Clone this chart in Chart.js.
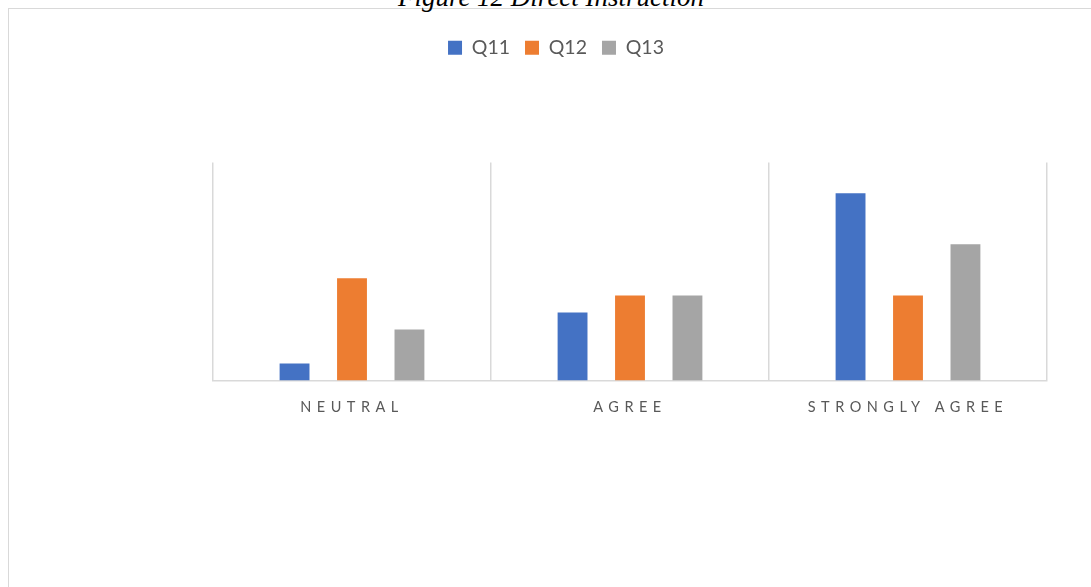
<!DOCTYPE html>
<html>
<head>
<meta charset="utf-8">
<script src="https://cdn.jsdelivr.net/npm/chart.js@4"></script>
<style>
  html, body { margin: 0; padding: 0; background: #fff; overflow: hidden; }
  #frame {
    position: absolute; left: 8px; top: 8px; width: 1200px; height: 700px;
    border-top: 1.5px solid #d9d9d9; border-left: 1.5px solid #d9d9d9;
  }
  #caption {
    position: absolute; left: 0; width: 1102px; top: -18px; line-height: 27px;
    text-align: center; font: italic 27px "Liberation Serif", serif; color: #000;
  }
  #chart { position: absolute; left: 0; top: 0; }
</style>
</head>
<body>
<div id="frame"></div>
<div id="caption">Figure 12 Direct Instruction</div>
<canvas id="chart" width="1091" height="587"></canvas>
<script>
// answers per category
const categories = ['NEUTRAL', 'AGREE', 'STRONGLY AGREE'];
const seriesNames = ['Q11', 'Q12', 'Q13'];
const q11 = [1, 4, 11];
const q12 = [6, 5, 5];
const q13 = [3, 5, 8];
const colors = ['#4472C4', '#ED7D31', '#A5A5A5'];

// push the plot area down below the legend
const legendGap = {
  id: 'legendGap',
  beforeInit (chart) {
    const fit = chart.legend.fit;
    chart.legend.fit = function () {
      fit.call(this);
      this.height += 95;
    };
  }
};

// spaced out category labels (ticks are drawn after the bars, z: 1)
const spacedTicks = {
  id: 'spacedTicks',
  afterDatasetsDraw (chart) { chart.ctx.letterSpacing = '5.5px'; },
  afterDraw (chart) { chart.ctx.letterSpacing = '0px'; }
};

const data = {
  labels: categories,
  datasets: [q11, q12, q13].map((values, i) => ({
    label: seriesNames[i],
    data: values,
    backgroundColor: colors[i],
    borderWidth: 0,
    categoryPercentage: 0.62,
    barPercentage: 0.52
  }))
};

new Chart(document.getElementById('chart'), {
  type: 'bar',
  data: data,
  options: {
    responsive: false,
    animation: false,
    layout: { padding: { top: 23, left: 65, right: 44, bottom: 153 } },
    plugins: {
      legend: {
        position: 'top',
        labels: {
          boxWidth: 14,
          boxHeight: 14,
          padding: 15,
          color: '#595959',
          font: { family: 'Lato', size: 19.5 }
        }
      },
      tooltip: { enabled: false }
    },
    scales: {
      x: {
        grid: { color: '#d9d9d9', lineWidth: 1.5, drawTicks: false },
        border: { color: '#d9d9d9', width: 1.5 },
        ticks: {
          z: 1,
          padding: 18,
          color: '#595959',
          font: { family: 'Lato', size: 14.5 }
        }
      },
      y: {
        min: 0,
        max: 12.8,
        grid: { display: false },
        border: { display: false },
        ticks: { display: false },
        afterFit (scale) { scale.width = 148; }
      }
    }
  },
  plugins: [legendGap, spacedTicks]
});
</script>
</body>
</html>
